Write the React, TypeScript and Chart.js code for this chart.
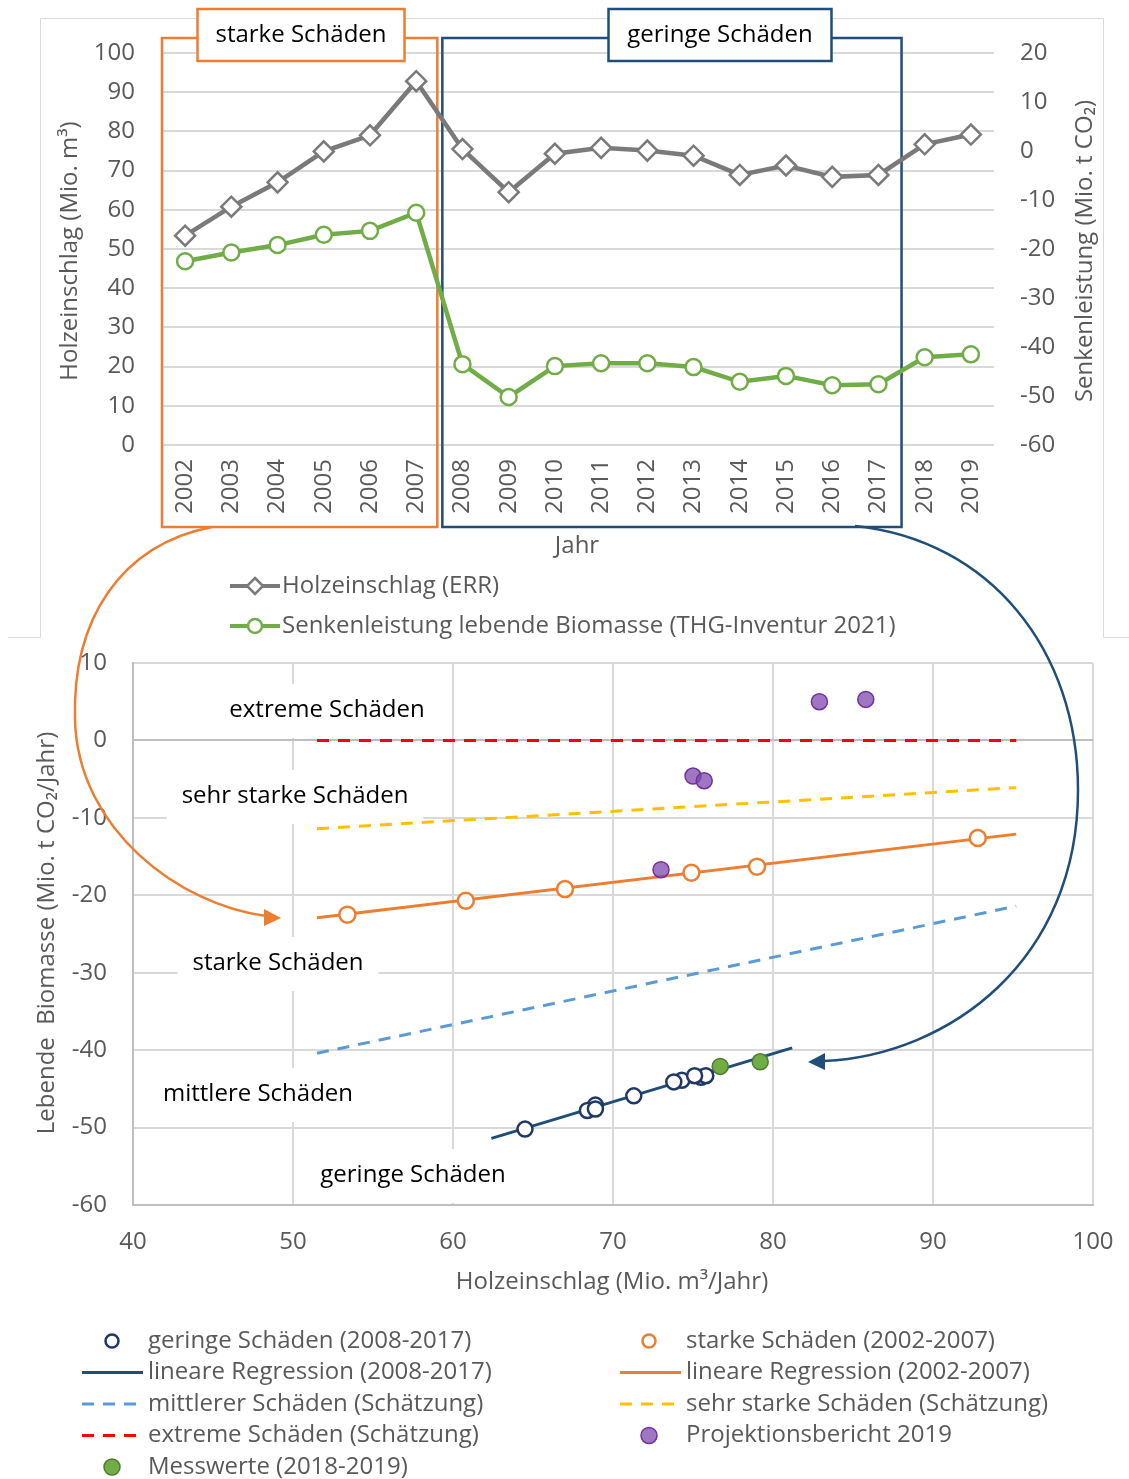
import React, { useEffect, useRef } from 'react';
import { Chart, registerables } from 'chart.js';

Chart.register(...registerables);

const FONT = "'Open Sans', 'Noto Sans', sans-serif";
const GRAY_TEXT = '#595959';
const GRID = '#d9d9d9';
const ORANGE = '#ED7D31';
const NAVY = '#1F4E79';
const DARKNAVY = '#203864';
const GREEN = '#70AD47';
const LINEGRAY = '#7a7a7a';

// ---- data ----
const years = ['2002', '2003', '2004', '2005', '2006', '2007', '2008', '2009', '2010', '2011', '2012', '2013', '2014', '2015', '2016', '2017', '2018', '2019'];
const holzeinschlag = [53.4, 60.8, 67.0, 74.9, 79.0, 92.8, 75.5, 64.5, 74.3, 75.8, 75.1, 73.8, 68.9, 71.3, 68.4, 68.9, 76.7, 79.2];
const senkenleistung = [-22.5, -20.7, -19.2, -17.1, -16.3, -12.6, -43.5, -50.2, -43.9, -43.3, -43.3, -44.1, -47.1, -45.9, -47.8, -47.6, -42.1, -41.5];

const regGeringeX = [62.4, 81.2];
const regGeringeY = [-51.4, -39.7];
const regStarkeX = [51.5, 95.2];
const regStarkeY = [-22.9, -12.1];
const schaetzX = [51.5, 95.2];
const mittlereY = [-40.4, -21.4];
const sehrStarkeY = [-11.4, -6.1];
const extremeY = [0, 0];
const projX = [82.9, 85.8, 75.0, 75.7, 73.0];
const projY = [5.0, 5.3, -4.6, -5.2, -16.7];

const zip = (xs: number[], ys: number[]) => xs.map((x, i) => ({ x, y: ys[i] }));
const yearPts = (a: number, b: number) => holzeinschlag.slice(a, b).map((x, i) => ({ x, y: senkenleistung[a + i] }));

// ---- helpers ----
function rotatedText(ctx: CanvasRenderingContext2D, text: string, x: number, y: number, color: string) {
  ctx.save();
  ctx.translate(x, y);
  ctx.rotate(-Math.PI / 2);
  ctx.fillStyle = color;
  ctx.font = `24px ${FONT}`;
  ctx.textAlign = 'center';
  ctx.textBaseline = 'middle';
  ctx.fillText(text, 0, 0);
  ctx.restore();
}

const topDecor = {
  id: 'topDecor',
  beforeDatasetsDraw(chart: any) {
    const ctx: CanvasRenderingContext2D = chart.ctx;
    const xs = chart.scales.x;
    const step = xs.getPixelForValue(1) - xs.getPixelForValue(0);
    // outer frame
    ctx.save();
    ctx.strokeStyle = GRID;
    ctx.lineWidth = 1;
    ctx.beginPath();
    ctx.moveTo(40.5, 637); ctx.lineTo(40.5, 18.5); ctx.lineTo(1103.5, 18.5); ctx.lineTo(1103.5, 637);
    ctx.moveTo(8, 637.5); ctx.lineTo(40.5, 637.5);
    ctx.moveTo(1103.5, 637.5); ctx.lineTo(1129, 637.5);
    ctx.stroke();
    ctx.restore();

    const boxes = [
      { l: xs.getPixelForValue(0) - step / 2, r: xs.getPixelForValue(5) + step / 2 - 2, color: ORANGE, text: 'starke Schäden', lx: 301, lw: 207 },
      { l: xs.getPixelForValue(6) - step / 2 + 3, r: xs.getPixelForValue(15) + step / 2, color: NAVY, text: 'geringe Schäden', lx: 720, lw: 223 },
    ];
    boxes.forEach((b) => {
      ctx.save();
      ctx.strokeStyle = b.color;
      ctx.lineWidth = 2.5;
      ctx.strokeRect(b.l, 38, b.r - b.l, 489);
      ctx.fillStyle = '#ffffff';
      ctx.fillRect(b.lx - b.lw / 2, 9, b.lw, 52);
      ctx.strokeRect(b.lx - b.lw / 2, 9, b.lw, 52);
      ctx.fillStyle = '#000000';
      ctx.font = `24px ${FONT}`;
      ctx.textAlign = 'center';
      ctx.textBaseline = 'middle';
      ctx.fillText(b.text, b.lx, 35);
      ctx.restore();
    });
  },
  afterDraw(chart: any) {
    const ctx: CanvasRenderingContext2D = chart.ctx;
    rotatedText(ctx, 'Holzeinschlag (Mio. m³)', 70, 251, GRAY_TEXT);
    rotatedText(ctx, 'Senkenleistung (Mio. t CO₂)', 1085, 251, GRAY_TEXT);
    ctx.save();
    ctx.font = `24px ${FONT}`;
    ctx.fillStyle = GRAY_TEXT;
    ctx.textAlign = 'center';
    ctx.textBaseline = 'middle';
    ctx.fillText('Jahr', 577, 546);
    // legend
    [0, 1].forEach((i) => {
      const ds = chart.data.datasets[i];
      const y = 586 + i * 40;
      ctx.strokeStyle = ds.borderColor;
      ctx.lineWidth = 4;
      ctx.beginPath();
      ctx.moveTo(230, y); ctx.lineTo(280, y);
      ctx.stroke();
      ctx.fillStyle = '#ffffff';
      ctx.lineWidth = 2.5;
      ctx.beginPath();
      if (ds.pointStyle === 'rectRot') {
        ctx.moveTo(255, y - 8); ctx.lineTo(263, y); ctx.lineTo(255, y + 8); ctx.lineTo(247, y); ctx.closePath();
      } else {
        ctx.arc(255, y, 7, 0, Math.PI * 2);
      }
      ctx.fill();
      ctx.stroke();
      ctx.fillStyle = GRAY_TEXT;
      ctx.textAlign = 'left';
      ctx.fillText(ds.label, 282, y);
    });
    ctx.restore();
  },
};

const bottomLabels = [
  { text: 'extreme Schäden', x: 327, y: 710 },
  { text: 'sehr starke Schäden', x: 295, y: 796 },
  { text: 'starke Schäden', x: 278, y: 963 },
  { text: 'mittlere Schäden', x: 258, y: 1094 },
  { text: 'geringe Schäden', x: 413, y: 1175 },
];

const bottomDecor = {
  id: 'bottomDecor',
  beforeDatasetsDraw(chart: any) {
    const ctx: CanvasRenderingContext2D = chart.ctx;
    ctx.save();
    ctx.font = `24px ${FONT}`;
    ctx.textAlign = 'center';
    ctx.textBaseline = 'middle';
    bottomLabels.forEach((l) => {
      const w = ctx.measureText(l.text).width + 30;
      ctx.fillStyle = '#ffffff';
      ctx.fillRect(l.x - w / 2, l.y - 26, w, 54);
      ctx.fillStyle = '#000000';
      ctx.fillText(l.text, l.x, l.y);
    });
    ctx.restore();
  },
  afterDraw(chart: any) {
    const ctx: CanvasRenderingContext2D = chart.ctx;
    ctx.save();
    // arrows
    ctx.lineWidth = 2.5;
    ctx.strokeStyle = ORANGE;
    ctx.beginPath();
    ctx.moveTo(212, 527);
    ctx.bezierCurveTo(120, 545, 72, 620, 75, 720);
    ctx.bezierCurveTo(78, 830, 180, 905, 266, 916);
    ctx.stroke();
    ctx.fillStyle = ORANGE;
    ctx.beginPath();
    ctx.moveTo(281, 918); ctx.lineTo(264, 909); ctx.lineTo(264, 926); ctx.closePath();
    ctx.fill();

    ctx.strokeStyle = NAVY;
    ctx.beginPath();
    ctx.moveTo(855, 526);
    ctx.bezierCurveTo(990, 540, 1078, 650, 1078, 790);
    ctx.bezierCurveTo(1078, 960, 950, 1055, 824, 1061);
    ctx.stroke();
    ctx.fillStyle = NAVY;
    ctx.beginPath();
    ctx.moveTo(808, 1062); ctx.lineTo(825, 1053); ctx.lineTo(825, 1070); ctx.closePath();
    ctx.fill();

    // axis titles
    rotatedText(ctx, 'Lebende  Biomasse (Mio. t CO₂/Jahr)', 47, 933, GRAY_TEXT);
    ctx.font = `24px ${FONT}`;
    ctx.fillStyle = GRAY_TEXT;
    ctx.textAlign = 'center';
    ctx.textBaseline = 'middle';
    ctx.fillText('Holzeinschlag (Mio. m³/Jahr)', 612, 1282);

    // legend (2 columns, row-major)
    chart.data.datasets.forEach((ds: any, i: number) => {
      const col = i % 2;
      const row = Math.floor(i / 2);
      const y = 1341 + row * 31.5;
      const lx = col === 0 ? 82 : 620;
      const cx = col === 0 ? 112 : 649;
      const tx = col === 0 ? 148 : 686;
      if (ds.showLine) {
        ctx.strokeStyle = ds.borderColor;
        ctx.lineWidth = ds.borderWidth;
        ctx.setLineDash(ds.borderDash || []);
        ctx.beginPath();
        ctx.moveTo(lx, y); ctx.lineTo(lx + 61, y);
        ctx.stroke();
        ctx.setLineDash([]);
      } else {
        ctx.beginPath();
        ctx.arc(cx, y, ds.pointBackgroundColor === '#ffffff' ? 6.5 : 8, 0, Math.PI * 2);
        ctx.fillStyle = ds.pointBackgroundColor;
        ctx.fill();
        ctx.strokeStyle = ds.pointBorderColor;
        ctx.lineWidth = ds.pointBorderWidth;
        ctx.stroke();
      }
      ctx.fillStyle = GRAY_TEXT;
      ctx.textAlign = 'left';
      ctx.fillText(ds.label, tx, y);
    });
    ctx.restore();
  },
};

const tickFont = { family: FONT, size: 24 };

export default function App() {
  const topRef = useRef<HTMLCanvasElement>(null);
  const botRef = useRef<HTMLCanvasElement>(null);

  useEffect(() => {
    const top = new Chart(topRef.current as HTMLCanvasElement, {
      type: 'line',
      data: {
        labels: years,
        datasets: [
          {
            label: 'Holzeinschlag (ERR)',
            data: holzeinschlag,
            yAxisID: 'y',
            borderColor: LINEGRAY,
            borderWidth: 4.5,
            pointStyle: 'rectRot',
            pointRadius: 10,
            pointBorderWidth: 2.5,
            pointBackgroundColor: '#ffffff',
            pointBorderColor: LINEGRAY,
            tension: 0,
          },
          {
            label: 'Senkenleistung lebende Biomasse (THG-Inventur 2021)',
            data: senkenleistung,
            yAxisID: 'y1',
            borderColor: GREEN,
            borderWidth: 4.5,
            pointStyle: 'circle',
            pointRadius: 8,
            pointBorderWidth: 2.5,
            pointBackgroundColor: '#ffffff',
            pointBorderColor: GREEN,
            tension: 0,
          },
        ],
      },
      options: {
        responsive: false,
        animation: false,
        devicePixelRatio: 1,
        layout: { padding: { top: 53, left: 0, right: 0, bottom: 0 } },
        plugins: { legend: { display: false }, tooltip: { enabled: false } },
        scales: {
          x: {
            offset: true,
            grid: { display: false, drawTicks: false },
            border: { display: false },
            ticks: { autoSkip: false, minRotation: 90, maxRotation: 90, padding: 14, color: GRAY_TEXT, font: tickFont },
            afterFit: (s: any) => { s.height = 195; },
          },
          y: {
            position: 'left',
            min: 0, max: 100,
            grid: { color: GRID, lineWidth: 2, drawTicks: false },
            border: { display: false },
            ticks: { stepSize: 10, padding: 27, color: GRAY_TEXT, font: tickFont },
            afterFit: (s: any) => { s.width = 162; },
          },
          y1: {
            position: 'right',
            min: -60, max: 20,
            grid: { display: false, drawTicks: false },
            border: { display: false },
            ticks: { stepSize: 10, padding: 26, color: GRAY_TEXT, font: tickFont },
            afterFit: (s: any) => { s.width = 135; },
          },
        },
      },
      plugins: [topDecor],
    } as any);

    const ptCommon = { showLine: false, borderWidth: 0, order: 0 };
    const lineCommon = { showLine: true, pointRadius: 0, order: 1, tension: 0 };

    const bot = new Chart(botRef.current as HTMLCanvasElement, {
      type: 'scatter',
      data: {
        datasets: [
          { ...ptCommon, label: 'geringe Schäden (2008-2017)', data: yearPts(6, 16), pointRadius: 7.5, pointBorderWidth: 2.5, pointBackgroundColor: '#ffffff', pointBorderColor: DARKNAVY },
          { ...ptCommon, label: 'starke Schäden (2002-2007)', data: yearPts(0, 6), pointRadius: 8, pointBorderWidth: 2.5, pointBackgroundColor: '#ffffff', pointBorderColor: ORANGE },
          { ...lineCommon, label: 'lineare Regression (2008-2017)', data: zip(regGeringeX, regGeringeY), borderColor: NAVY, borderWidth: 3 },
          { ...lineCommon, label: 'lineare Regression (2002-2007)', data: zip(regStarkeX, regStarkeY), borderColor: ORANGE, borderWidth: 3 },
          { ...lineCommon, label: 'mittlerer Schäden (Schätzung)', data: zip(schaetzX, mittlereY), borderColor: '#5B9BD5', borderWidth: 3, borderDash: [12, 9] },
          { ...lineCommon, label: 'sehr starke Schäden (Schätzung)', data: zip(schaetzX, sehrStarkeY), borderColor: '#FFC000', borderWidth: 3, borderDash: [12, 9] },
          { ...lineCommon, label: 'extreme Schäden (Schätzung)', data: zip(schaetzX, extremeY), borderColor: '#FF0000', borderWidth: 3, borderDash: [12, 9] },
          { ...ptCommon, label: 'Projektionsbericht 2019', data: zip(projX, projY), pointRadius: 8, pointBorderWidth: 1.5, pointBackgroundColor: 'rgba(126,72,172,0.75)', pointBorderColor: '#7030A0' },
          { ...ptCommon, label: 'Messwerte (2018-2019)', data: yearPts(16, 18), pointRadius: 8, pointBorderWidth: 1.5, pointBackgroundColor: GREEN, pointBorderColor: '#4E7A31' },
        ],
      },
      options: {
        responsive: false,
        animation: false,
        devicePixelRatio: 1,
        layout: { padding: { top: 663, left: 0, right: 36, bottom: 0 } },
        plugins: { legend: { display: false }, tooltip: { enabled: false } },
        scales: {
          x: {
            type: 'linear',
            min: 40, max: 100,
            grid: { color: GRID, lineWidth: 2, drawTicks: false },
            border: { display: true, color: '#bfbfbf', width: 2 },
            ticks: { stepSize: 10, padding: 23, color: GRAY_TEXT, font: tickFont },
            afterFit: (s: any) => { s.height = 274; s.paddingRight = 0; s.paddingLeft = 0; },
          },
          y: {
            type: 'linear',
            min: -60, max: 10,
            grid: { color: (c: any) => (c.tick && c.tick.value === 0 ? '#bfbfbf' : GRID), lineWidth: 2, drawTicks: false },
            border: { display: true, color: '#bfbfbf', width: 2 },
            ticks: { stepSize: 10, padding: 26, color: GRAY_TEXT, font: tickFont },
            afterFit: (s: any) => { s.width = 133; },
          },
        },
      },
      plugins: [bottomDecor],
    } as any);

    return () => {
      top.destroy();
      bot.destroy();
    };
  }, []);

  return (
    <div style={{ position: 'absolute', left: 0, top: 0, width: 1129, height: 1479, background: '#ffffff' }}>
      <canvas ref={topRef} width={1129} height={640} style={{ position: 'absolute', left: 0, top: 0, zIndex: 0 }} />
      <canvas ref={botRef} width={1129} height={1479} style={{ position: 'absolute', left: 0, top: 0, zIndex: 1 }} />
    </div>
  );
}
